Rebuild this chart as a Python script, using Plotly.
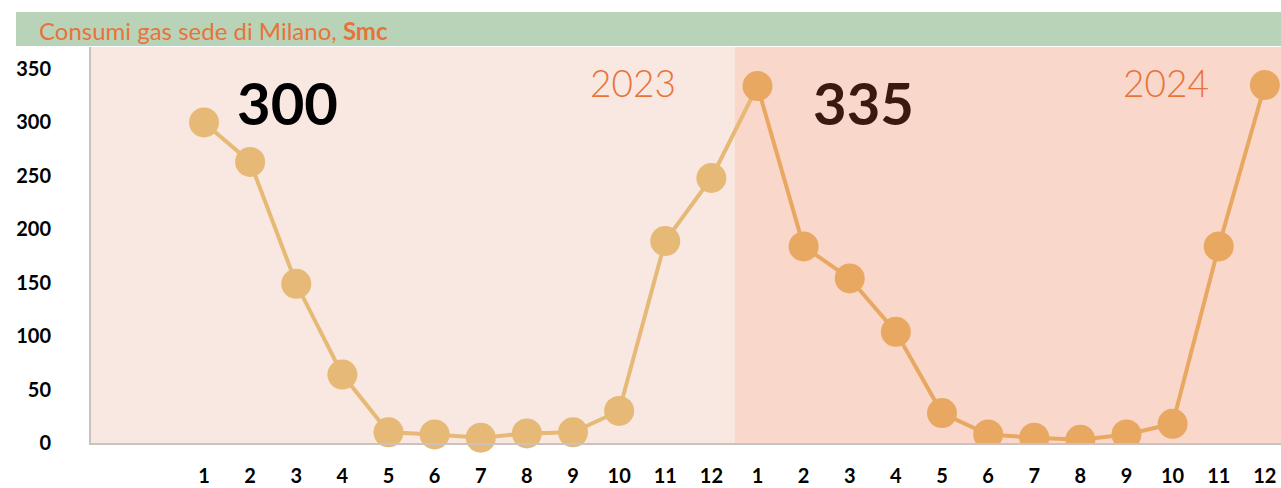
import plotly.graph_objects as go

months = ["1", "2", "3", "4", "5", "6", "7", "8", "9", "10", "11", "12"]
consumi_2023 = [300, 263, 149, 64, 10, 8, 5, 9, 10, 30, 189, 248]
consumi_2024 = [334, 184, 154, 104, 28, 8, 5, 3, 8, 18, 184, 335]
year_labels = ["2023", "2024"]
headline = ["300", "335"]
title_text = "Consumi gas sede di Milano, <b>Smc</b>"

c23 = "#E7B976"
c24 = "#E8A862"

n = len(months)
x23 = list(range(n))
x24 = list(range(n, 2 * n))

fig = go.Figure()
fig.add_trace(go.Scatter(x=x23, y=consumi_2023, mode="lines+markers",
                         line=dict(color=c23, width=4),
                         marker=dict(size=30, color=c23), cliponaxis=False,
                         hoverinfo="skip"))
fig.add_trace(go.Scatter(x=[x23[-1], x24[0]], y=[consumi_2023[-1], consumi_2024[0]],
                         mode="lines", line=dict(color=c23, width=4),
                         cliponaxis=False, hoverinfo="skip"))
fig.add_trace(go.Scatter(x=x24, y=consumi_2024, mode="lines+markers",
                         line=dict(color=c24, width=4),
                         marker=dict(size=30, color=c24), cliponaxis=True,
                         hoverinfo="skip"))

xmin, xmax = -2.45, 23.35
W, H = 1281, 488
ml, mr, mt, mb = 91, 0, 47, 45

# background bands
fig.add_shape(type="rect", xref="x", yref="paper", x0=xmin, x1=n - 0.5, y0=0, y1=1,
              fillcolor="#F8E8E1", line_width=0, layer="below")
fig.add_shape(type="rect", xref="x", yref="paper", x0=n - 0.5, x1=xmax, y0=0, y1=1,
              fillcolor="#F9D8CB", line_width=0, layer="below")

ph = H - mt - mb
pw = W - ml - mr


def px_x(x):
    return (x - ml) / pw


def px_y(y):
    return (H - mb - y) / ph


# header bar
fig.add_shape(type="rect", xref="paper", yref="paper",
              x0=px_x(16), x1=1.0, y0=px_y(46), y1=px_y(12),
              fillcolor="#B8D3B7", line_width=0)
fig.add_annotation(xref="paper", yref="paper", x=px_x(37), y=px_y(31),
                   text=title_text, showarrow=False, xanchor="left", yanchor="middle",
                   font=dict(family="Lato", size=24, color="#E8733A"))

# headline numbers
fig.add_annotation(x=1.8, y=319, text="<b>" + headline[0] + "</b>",
                   showarrow=False, font=dict(family="Lato", size=58, color="#000000"))
fig.add_annotation(x=14.3, y=319, text="<b>" + headline[1] + "</b>",
                   showarrow=False, font=dict(family="Lato", size=58, color="#3A1A0E"))
fig.add_annotation(x=9.3, y=337, text=year_labels[0], showarrow=False,
                   font=dict(family="Lato", size=37, color="#E8733A", weight=300))
fig.add_annotation(x=20.85, y=337, text=year_labels[1], showarrow=False,
                   font=dict(family="Lato", size=37, color="#E8733A", weight=300))

fig.update_layout(
    template="none",
    width=W, height=H,
    margin=dict(l=ml, r=mr, t=mt, b=mb, pad=0),
    paper_bgcolor="white", plot_bgcolor="white",
    showlegend=False,
    xaxis=dict(range=[xmin, xmax], tickvals=x23 + x24, ticktext=months + months,
               automargin=False,
               showgrid=False, zeroline=False, showline=True, linecolor="#C9C2BF",
               linewidth=2, ticks="", ticklabelstandoff=14,
               tickfont=dict(family="Lato", size=20, color="#000000", weight="bold")),
    yaxis=dict(range=[0, 370.6], tickvals=[0, 50, 100, 150, 200, 250, 300, 350],
               automargin=False,
               showgrid=False, zeroline=False, showline=True, linecolor="#C9C2BF",
               linewidth=2, ticks="", ticklabelstandoff=34,
               tickfont=dict(family="Lato", size=20, color="#000000", weight="bold")),
)

post = ("document.body.style.margin='0';document.body.style.overflow='hidden';"
        "Plotly.relayout('{plot_id}', {width: %d, height: %d});" % (W, H))
fig.write_html("out.html", post_script=post,
               config={"displayModeBar": False, "staticPlot": True})
